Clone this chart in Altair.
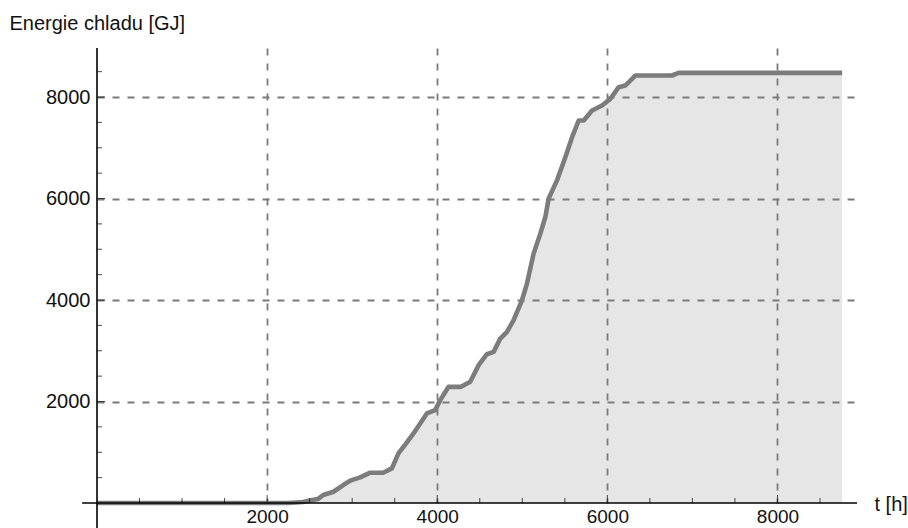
import altair as alt
import pandas as pd

# Cumulative cooling energy over the year
hours = [0, 2250, 2420, 2560, 2600, 2660, 2780, 2895, 2977, 3094, 3212, 3365,
         3467, 3545, 3604, 3721, 3878, 3976, 4035, 4133, 4280, 4388, 4486, 4584,
         4663, 4741, 4820, 4898, 4996, 5055, 5133, 5212, 5271, 5310, 5408, 5506,
         5585, 5663, 5722, 5820, 5937, 6035, 6133, 6212, 6329, 6760, 6839, 8760]
energy = [0, 0, 20, 70, 80, 157, 222, 354, 440, 505, 597, 597,
          683, 984, 1108, 1371, 1765, 1830, 2027, 2289, 2289, 2388, 2716, 2932,
          2978, 3241, 3372, 3602, 3995, 4323, 4914, 5308, 5635, 6000, 6357, 6815,
          7209, 7537, 7537, 7734, 7832, 7964, 8194, 8227, 8424, 8424, 8476, 8476]

x_labels = [2000, 4000, 6000, 8000]
y_labels = [2000, 4000, 6000, 8000]
x_minor = [v for v in range(500, 9000, 500) if v % 2000]
y_minor = [v for v in range(500, 9000, 500) if v % 2000]

# plot range and axis extents
X_MIN_AXIS, X_MAX = -175, 8935
Y_MIN_AXIS, Y_MAX = -520, 8966

FONT = "Liberation Sans"
GRID = "#7a7a7a"

df = pd.DataFrame({"t": hours, "E": energy})

xs = alt.Scale(domain=[0, X_MAX], nice=False, zero=False)
ys = alt.Scale(domain=[0, Y_MAX], nice=False, zero=False)

x_axis = alt.Axis(
    values=x_labels, format="d", grid=True, gridDash=[7, 8], gridColor=GRID,
    gridWidth=1.8, domain=False, ticks=False, tickSize=0, labelPadding=4,
    labelFont=FONT, labelFontSize=19, labelColor="#111111",
    title="t [h]", titleFont=FONT, titleFontSize=20, titleFontWeight="normal",
    titleColor="#111111", titleX=777, titleY=1, titleAlign="left",
    titleBaseline="middle", titleAngle=0,
)
y_axis = alt.Axis(
    values=y_labels, format="d", grid=True, gridDash=[7, 8], gridColor=GRID,
    gridWidth=1.8, domain=False, ticks=False, tickSize=0, labelPadding=7,
    labelFont=FONT, labelFontSize=20, labelColor="#111111",
    title="Energie chladu [GJ]", titleFont=FONT, titleFontSize=20,
    titleFontWeight="normal", titleColor="#111111", titleAngle=0,
    titleX=-88, titleY=-19, titleAlign="left", titleBaseline="alphabetic",
)


def X(field):
    return alt.X(field, scale=xs, axis=x_axis)


def Y(field):
    return alt.Y(field, scale=ys, axis=y_axis)


area = alt.Chart(df).mark_area(color="#808080", opacity=0.2).encode(
    x=X("t:Q"), y=Y("E:Q"))

line = alt.Chart(df).mark_line(color="#7c7c7c", strokeWidth=4.6,
                               strokeJoin="round", strokeCap="butt").encode(
    x=X("t:Q"), y=Y("E:Q"))

x_axis_line = alt.Chart(pd.DataFrame({"a": [X_MIN_AXIS], "b": [X_MAX], "c": [0]})).mark_rule(
    color="black", strokeWidth=1.6).encode(x=X("a:Q"), x2="b:Q", y=Y("c:Q"))
y_axis_line = alt.Chart(pd.DataFrame({"a": [Y_MIN_AXIS], "b": [Y_MAX], "c": [0]})).mark_rule(
    color="black", strokeWidth=1.6).encode(y=Y("a:Q"), y2="b:Q", x=X("c:Q"))

x_ticks_minor = alt.Chart(pd.DataFrame({"t": x_minor, "E": 0})).mark_tick(
    orient="vertical", color="black", size=5, thickness=1, yOffset=-2.5).encode(
    x=X("t:Q"), y=Y("E:Q"))
y_ticks_minor = alt.Chart(pd.DataFrame({"E": y_minor, "t": 0})).mark_tick(
    orient="horizontal", color="black", size=5, thickness=1, xOffset=2.5).encode(
    y=Y("E:Q"), x=X("t:Q"))
x_ticks_major = alt.Chart(pd.DataFrame({"t": x_labels, "E": 0})).mark_tick(
    orient="vertical", color="black", size=8, thickness=1, yOffset=-4).encode(
    x=X("t:Q"), y=Y("E:Q"))
y_ticks_major = alt.Chart(pd.DataFrame({"E": y_labels, "t": 0})).mark_tick(
    orient="horizontal", color="black", size=8, thickness=1, xOffset=4).encode(
    y=Y("E:Q"), x=X("t:Q"))

chart = alt.layer(
    area, line, x_ticks_minor, y_ticks_minor, x_ticks_major, y_ticks_major,
    x_axis_line, y_axis_line,
).properties(
    width=760, height=455,
    autosize=alt.AutoSizeParams(type="none"),
    padding={"left": 97, "top": 48, "right": 51, "bottom": 25},
    background="white",
).configure_view(stroke=None)

chart.save("out.html", embed_options={"renderer": "svg", "actions": False})
